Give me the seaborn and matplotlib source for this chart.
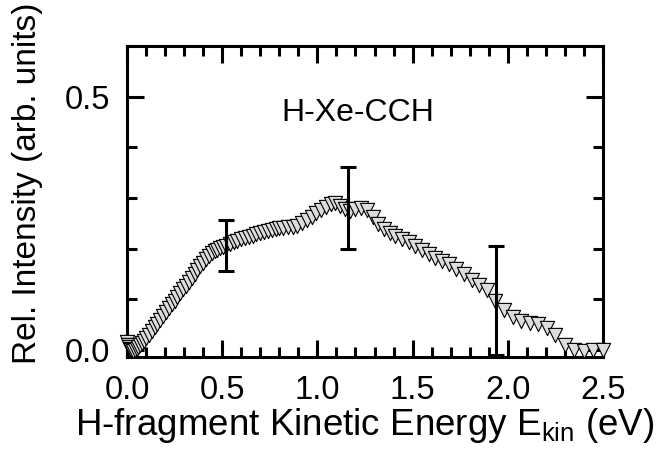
import numpy as np
import pandas as pd
import matplotlib
matplotlib.use("Agg")
import matplotlib.pyplot as plt
from matplotlib.ticker import MultipleLocator
import seaborn as sns

# ---- data ----
energy = [0.000, 0.005, 0.010, 0.015, 0.020, 0.030, 0.040, 0.050, 0.060, 0.070,
          0.080, 0.090, 0.100, 0.115, 0.130, 0.145, 0.160, 0.175, 0.190, 0.205,
          0.220, 0.235, 0.250, 0.265, 0.280, 0.295, 0.310, 0.325, 0.340, 0.355,
          0.370, 0.385, 0.400, 0.415, 0.430, 0.445, 0.460, 0.475, 0.490, 0.505,
          0.520, 0.540, 0.560, 0.580, 0.600, 0.620, 0.640, 0.660, 0.680, 0.700,
          0.720, 0.740, 0.760, 0.780, 0.800, 0.820, 0.845, 0.870, 0.895, 0.920,
          0.945, 0.970, 0.995, 1.020, 1.045, 1.070, 1.095, 1.120, 1.145, 1.170,
          1.200, 1.230, 1.260, 1.290, 1.320, 1.350, 1.380, 1.410, 1.445, 1.480,
          1.515, 1.550, 1.585, 1.620, 1.655, 1.690, 1.730, 1.770, 1.810, 1.850,
          1.890, 1.935, 1.980, 2.025, 2.070, 2.115, 2.160, 2.205, 2.250, 2.300,
          2.350, 2.400, 2.450, 2.500]
intensity = [0.015, 0.010, 0.005, 0.002, 0.000, -0.002, 0.000, 0.002, 0.005, 0.009,
             0.014, 0.018, 0.023, 0.030, 0.038, 0.046, 0.052, 0.059, 0.067, 0.075,
             0.082, 0.090, 0.097, 0.105, 0.112, 0.120, 0.127, 0.135, 0.142, 0.150,
             0.157, 0.165, 0.172, 0.179, 0.186, 0.191, 0.195, 0.198, 0.201, 0.203,
             0.206, 0.210, 0.213, 0.215, 0.218, 0.220, 0.222, 0.225, 0.228, 0.230,
             0.232, 0.234, 0.236, 0.238, 0.240, 0.241, 0.242, 0.243, 0.245, 0.250,
             0.256, 0.263, 0.270, 0.277, 0.283, 0.289, 0.290, 0.285, 0.279, 0.275,
             0.278, 0.281, 0.276, 0.262, 0.248, 0.238, 0.231, 0.225, 0.218, 0.213,
             0.206, 0.198, 0.190, 0.182, 0.175, 0.170, 0.160, 0.149, 0.139, 0.128,
             0.118, 0.097, 0.078, 0.064, 0.057, 0.054, 0.051, 0.044, 0.030, 0.009,
             0.000, -0.002, 0.000, 0.000]

err_x = [0.52, 1.16, 1.94]
err_y = [0.206, 0.281, 0.097]
err_size = [0.050, 0.081, 0.108]

x_ticks = [0.0, 0.5, 1.0, 1.5, 2.0, 2.5]
x_ticklabels = ["0.0", "0.5", "1.0", "1.5", "2.0", "2.5"]
y_ticks = [0.0, 0.5]
y_ticklabels = ["0.0", "0.5"]

label_text = "H-Xe-CCH"
xlabel_text = r"H-fragment Kinetic Energy E$_{\mathrm{kin}}$ (eV)"
ylabel_text = "Rel. Intensity (arb. units)"

df = pd.DataFrame({"E": energy, "I": intensity})

sns.set_style("white")
plt.rcParams["font.family"] = ["Liberation Sans", "DejaVu Sans"]
plt.rcParams["mathtext.fontset"] = "custom"
plt.rcParams["mathtext.rm"] = "Liberation Sans"
plt.rcParams["text.color"] = "black"
plt.rcParams["axes.labelcolor"] = "black"
plt.rcParams["xtick.color"] = "black"
plt.rcParams["ytick.color"] = "black"

fig = plt.figure(figsize=(6.56, 4.68), dpi=100)
ax = fig.add_axes([127 / 656, 1 - 357 / 468, (603 - 127) / 656, (357 - 46) / 468])

sns.scatterplot(data=df, x="E", y="I", ax=ax, marker="v", s=105,
                color="#dcdcdc", edgecolor="black", linewidth=0.8,
                clip_on=False, zorder=3, legend=False)

ax.errorbar(err_x, err_y, yerr=err_size, fmt="none", ecolor="black",
            elinewidth=2.2, capsize=6, capthick=2.2, zorder=4, clip_on=False)

ax.set_xlim(0, 2.5)
ax.set_ylim(-0.014, 0.6)
ax.set_xticks(x_ticks)
ax.set_xticklabels(x_ticklabels)
ax.set_yticks(y_ticks)
ax.set_yticklabels(y_ticklabels)
ax.xaxis.set_minor_locator(MultipleLocator(0.1))
ax.yaxis.set_minor_locator(MultipleLocator(0.1))

ax.tick_params(which="both", direction="in", top=True, right=True,
               bottom=True, left=True, width=2.2, color="black")
ax.tick_params(which="major", length=12)
ax.tick_params(which="minor", length=7)
ax.tick_params(axis="x", which="major", labelsize=23.5, pad=13)
ax.tick_params(axis="y", which="major", labelsize=23.5, pad=12)

for sp in ax.spines.values():
    sp.set_linewidth(2.2)
    sp.set_color("black")
    sp.set_visible(True)

ax.set_xlabel(xlabel_text, fontsize=26.5, labelpad=0)
ax.set_ylabel(ylabel_text, fontsize=24, labelpad=16, y=0.56)

ax.text(1.21, 0.468, label_text, fontsize=23, ha="center", va="center")

fig.savefig("out.png", dpi=100, facecolor="white")
